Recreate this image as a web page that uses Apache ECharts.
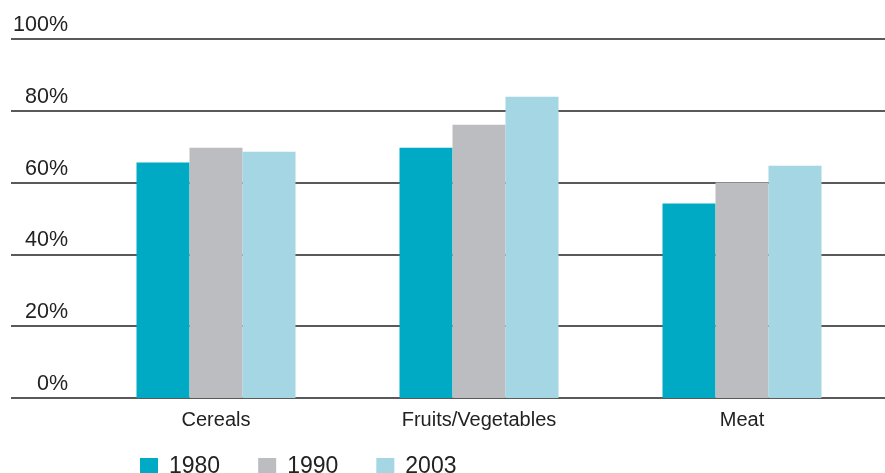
<!DOCTYPE html>
<html>
<head>
<meta charset="utf-8">
<script src="https://cdn.jsdelivr.net/npm/echarts@6/dist/echarts.min.js"></script>
<style>
	html, body { margin: 0; padding: 0; background: #fff; }
	#main { width: 885px; height: 473px; }
</style>
</head>
<body>
<div id="main"></div>
<script>
var categories = ['Cereals', 'Fruits/Vegetables', 'Meat'];
var years = ['1980', '1990', '2003'];
var values1980 = [65.6, 69.7, 54.2];
var values1990 = [69.7, 76.1, 60.0];
var values2003 = [68.6, 83.9, 64.7];
var yTicks = [0, 20, 40, 60, 80, 100];

var colors = ['#00a9c4', '#bcbdc1', '#a4d6e4'];
var font = 'Liberation Sans, Helvetica, Arial, sans-serif';

var chart = echarts.init(document.getElementById('main'));

function bar(name, data, i) {
	return {
		name: name,
		type: 'bar',
		xAxisIndex: 1,
		yAxisIndex: 1,
		barWidth: 53,
		barGap: '0%',
		itemStyle: { color: colors[i] },
		data: data
	};
}

var option = {
	animation: false,
	textStyle: { fontFamily: font },
	grid: [
		// gridlines + y labels, full width
		{ left: 11, right: 0, top: 39, bottom: 75 },
		// bars
		{ left: 84.5, right: 11.5, top: 39, bottom: 75 }
	],
	legend: {
		left: 140,
		top: 455,
		padding: 0,
		itemWidth: 18,
		itemHeight: 17,
		itemGap: 38,
		icon: 'rect',
		textStyle: { fontSize: 23, color: '#222', fontFamily: font, padding: [2, 0, 0, 6] },
		data: years
	},
	xAxis: [
		{ gridIndex: 0, type: 'value', show: false, min: 0, max: 1 },
		{
			gridIndex: 1,
			type: 'category',
			data: categories,
			axisLine: { show: false },
			axisTick: { show: false },
			axisLabel: { fontSize: 20, color: '#222', margin: 12 }
		}
	],
	yAxis: [
		{
			gridIndex: 0,
			type: 'value',
			min: yTicks[0],
			max: yTicks[yTicks.length - 1],
			interval: 20,
			axisLine: { show: false },
			axisTick: { show: false },
			splitLine: { lineStyle: { color: '#222', width: 1.5 } },
			axisLabel: {
				inside: true,
				margin: 57,
				align: 'right',
				verticalAlign: 'bottom',
				padding: [0, 0, 3, 0],
				fontSize: 21.5,
				color: '#222',
				formatter: '{value}%'
			}
		},
		{ gridIndex: 1, type: 'value', min: 0, max: 100, show: false }
	],
	series: [
		bar(years[0], values1980, 0),
		bar(years[1], values1990, 1),
		bar(years[2], values2003, 2)
	]
};

chart.setOption(option);
</script>
</body>
</html>
